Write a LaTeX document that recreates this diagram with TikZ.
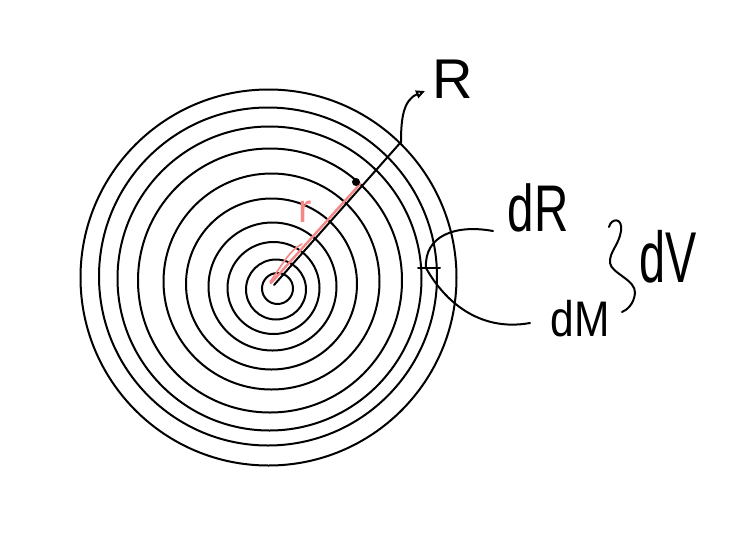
\documentclass[tikz,border=0pt]{standalone}
\usepackage{fontspec}
\setmainfont{Liberation Sans}
\usetikzlibrary{arrows.meta, positioning}
\definecolor{rpink}{RGB}{245,135,135}

\begin{document}
\begin{tikzpicture}[x=1pt, y=-1pt, line width=2pt, line cap=round,
    ring/.style={draw=black},
    hand/.style={inner sep=0pt, font=\fontsize{#1}{#1}\selectfont},
    dot/.style={circle, fill=black, inner sep=0pt, minimum size=8pt}]
    \useasboundingbox (0,0) rectangle (748,542);
    % Shells (hand-drawn, centres drift a little)
    \foreach \cx/\cy/\r in {277.5/288.5/15.5, 276/289.5/30, 273.5/288/46,
        272.5/286.5/64, 271.5/284/85.5, 271.5/281.5/108, 270/280.5/132,
        269.5/278.5/152, 268/276.5/169, 268.5/277.5/188} {
        \draw[ring] (\cx,\cy) circle (\r pt);
    }
    % Radius
    \coordinate (o) at (274,285);
    \coordinate (rim) at (401,142);
    \draw (o) -- (rim);
    % Inner radius r
    \coordinate (pend) at (360,184);
    \draw[rpink, line width=2.4pt] (271,283) -- (pend);
    \draw[rpink, line width=1.6pt] (270,282) .. controls (284,262) and (290,250) .. (302,244);
    \node[hand=40, text=rpink] (r) at (305,212) {r};
    \node[dot] (pt) at (356,182) {};
    % Label R
    \node[hand=56] (R) at (453,79) {R};
    \draw[-{Triangle[open, length=9pt, width=8pt]}] (rim) .. controls (401,120) and (403,100) .. (425,91);
    % Thin shell dR / dM
    \coordinate (tick) at (426,268);
    \draw ([xshift=-8pt]tick) -- ([xshift=14pt]tick);
    \node[hand=66] (dR) at (538,208) {\scalebox{0.72}[1]{dR}};
    \node[hand=50] (dM) at (580,319) {\scalebox{0.85}[1]{dM}};
    \node[hand=72] (dV) at (668,257) {\scalebox{0.65}[1]{dV}};
    \coordinate (dRfoot) at (493,231);
    \coordinate (dMfoot) at (530,323);
    \draw (dRfoot) .. controls (455,224) and (424,236) .. (tick);
    \draw (tick) .. controls (445,302) and (480,332) .. (dMfoot);
    % Brace
    \draw (609,227) .. controls (611,218) and (623,217) .. (621,231)
        .. controls (619,245) and (609,252) .. (610,263)
        .. controls (611,273) and (636,280) .. (635,293)
        .. controls (634,304) and (627,310) .. (622,312);
\end{tikzpicture}
\end{document}
